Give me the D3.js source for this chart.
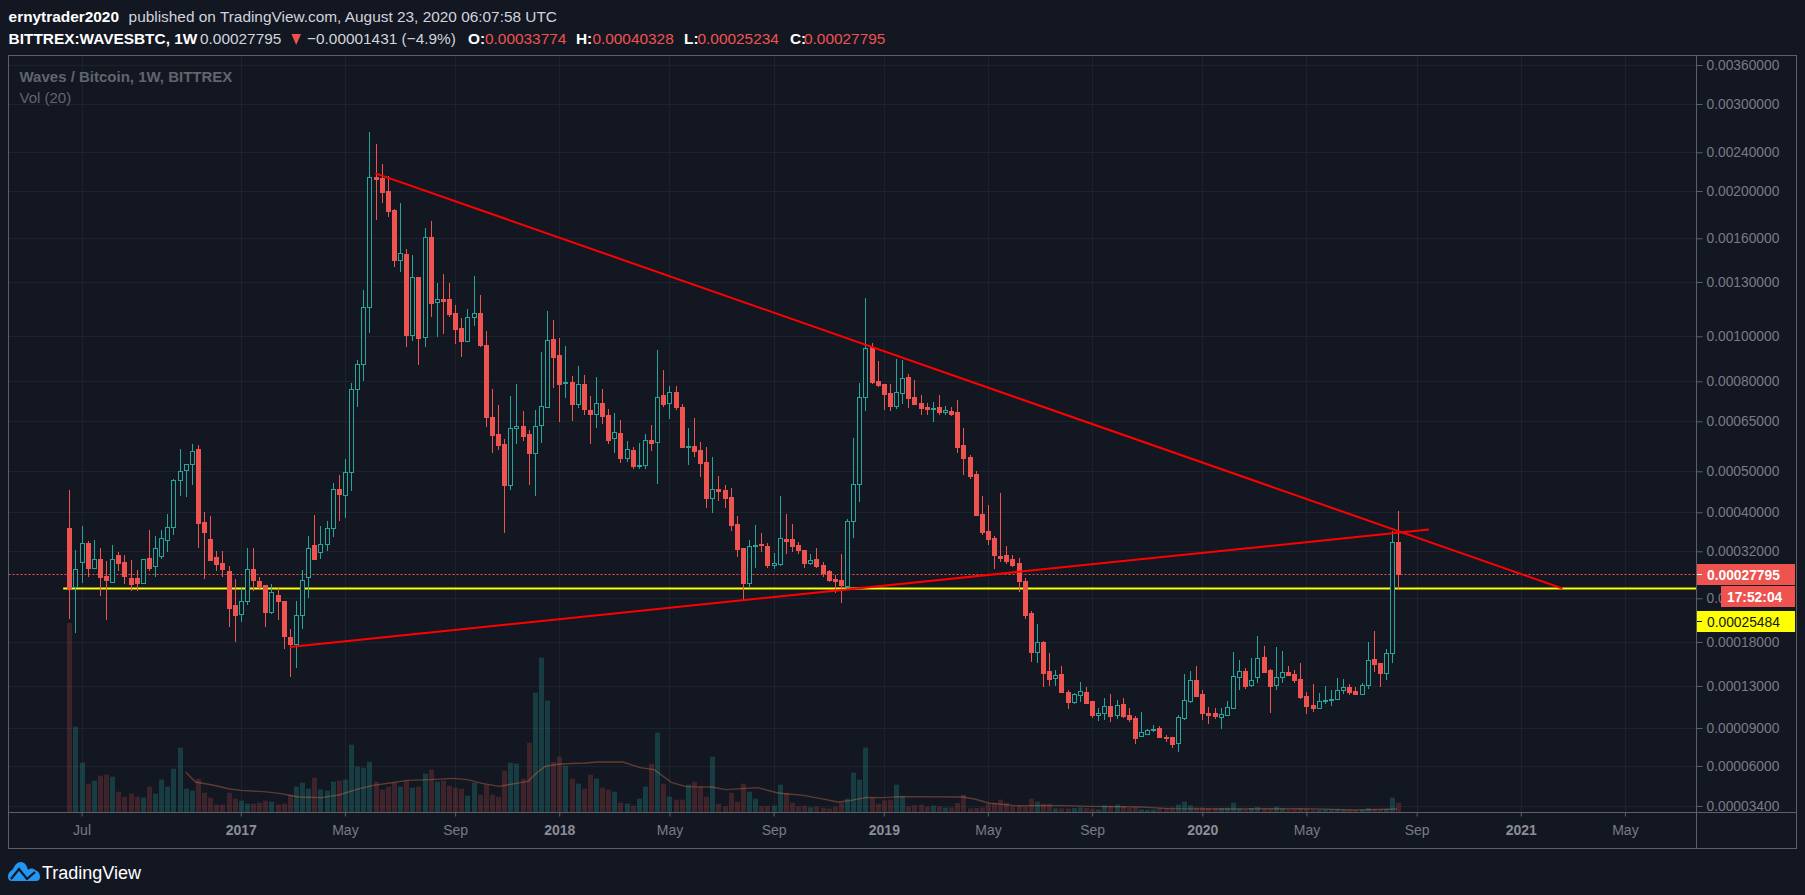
<!DOCTYPE html>
<html><head><meta charset="utf-8">
<style>html,body{margin:0;padding:0;background:#131722}svg{display:block}</style>
<script src="https://cdnjs.cloudflare.com/ajax/libs/d3/7.8.5/d3.min.js"></script>
</head><body><svg id="c" width="1805" height="895"></svg>
<script>
// ---- values, in satoshi (1e-8 BTC), one entry per weekly candle
const opens=[36500,25700,29900,33550,28900,30450,27450,26550,31200,29950,
27100,27100,26400,30650,29250,31150,34150,36750,47600,50300,
51900,56100,37850,34350,30850,29750,28300,22950,21600,23500,
28700,26600,26000,21950,24500,23600,18600,17750,21450,27400,
33200,31800,33350,36550,45450,43900,49800,76800,87000,115100,
213200,212200,200000,182800,144500,148300,100800,133000,99800,161000,
117900,119800,119800,111800,103900,97900,110000,111800,95800,66500,
60800,57700,46500,62600,63400,60800,55100,63800,70100,98700,
91100,79200,79700,71100,78900,68900,67400,71400,67200,59600,
61100,53700,55900,51300,51800,58800,58200,74500,71500,75700,
69900,56800,57100,55900,52400,43300,45450,45200,43500,37400,
32600,26350,33000,33400,33000,29450,29650,34400,34400,33200,
32200,29800,30500,29400,28300,26950,26800,25900,38000,46600,
73900,95000,80100,78900,75200,70400,75200,81700,73700,71400,
70000,69400,70000,68300,68600,68200,57400,53900,49300,39600,
36000,34600,31000,31200,30500,29750,26750,21750,16750,18000,
14500,13750,14200,12350,11300,12050,12350,11400,10100,10300,
10900,10080,11100,10080,9800,8300,8470,8780,9000,8190,
8190,7630,9850,11400,13590,12100,10280,10280,9930,10080,
10760,13850,14550,13050,13850,16100,14630,13100,13850,14400,
14200,13700,11900,11000,10760,11400,11500,11650,12600,12900,
12450,12150,13050,15850,15400,14350,16550,33774];
const closes=[25350,28800,33650,28900,30450,27350,26800,30450,29800,27500,
26200,26350,30450,28900,32550,34550,36750,47600,50000,51900,
55500,37700,35650,30300,29600,28700,22550,21550,23500,28800,
26850,25900,21950,25000,23500,18750,17750,21450,26900,32550,
30550,33350,36550,45350,44300,49800,76800,87000,115100,213200,
211600,199300,182200,144500,149000,100800,133000,99200,160700,117700,
119600,118800,111600,103700,97900,110000,111800,95900,66300,60600,
57500,46400,62600,63300,60300,55100,63300,70200,98000,90300,
79000,79700,71100,78800,69400,67500,71300,66900,59000,61400,
53500,56100,51400,51600,58800,58100,73900,71100,75600,69900,
56700,57000,55600,52300,43300,45400,45000,43300,37300,32500,
26300,33000,33250,33250,29400,29700,34550,33850,33050,32200,
29750,30400,29200,27950,26800,26600,26000,38000,46600,73900,
94300,79800,78400,75000,70400,75600,81200,73400,71100,69800,
69400,69600,68200,69100,67500,56900,53700,48800,39400,35650,
34400,31200,30650,30100,29400,26650,21550,16750,17950,14350,
13700,14150,12350,11300,12100,12400,11200,10080,10250,10900,
10000,11000,10000,9700,8100,8600,8780,8950,8190,8130,
7600,9950,11500,13550,11900,10280,10080,10000,10150,10770,
13950,14500,13000,13550,16050,14400,13000,13850,14400,14100,
13590,11800,10900,10700,11450,11550,11650,12600,12850,12350,
12100,13100,15800,15300,14300,16550,33750,27795];
const highs=[45200,32200,37000,34000,34200,32600,30100,33200,31800,31200,
30300,28500,30450,36200,35000,36200,39600,47950,56100,51900,
57700,57300,40000,39200,32000,32000,29200,26950,25550,32600,
32600,27350,26100,26150,25550,23600,19650,23600,28500,35000,
39400,37000,38100,46800,49000,53400,79100,88900,125100,263500,
249200,227100,214500,183400,188700,151800,147800,133000,168000,173500,
129300,135000,129300,116400,109300,114000,133800,122100,102500,76900,
70600,59100,74100,78900,68600,62100,68900,92600,113000,108200,
99100,95300,82100,86300,82500,74100,81700,76900,69200,67900,
65500,58600,56700,57900,60700,63700,93400,84600,78100,78100,
71100,62600,66200,58300,56800,54000,48700,46300,45700,39200,
32600,34200,37200,35600,33600,31600,43800,39600,37400,33800,
32200,31400,32600,29950,28500,27700,31400,38400,59400,79100,
120300,96700,88400,78900,78900,89300,88900,82900,80500,74500,
71400,71800,74500,70300,70000,72600,62700,54500,50000,43800,
41600,35000,44400,33000,31200,30800,27200,22050,20300,18100,
16600,14600,15050,12550,12200,13400,12900,11400,10700,11700,
12100,11500,11700,10700,10000,10350,8950,9250,9150,8350,
8190,10080,14200,14500,15050,12550,10850,10700,10700,11400,
16700,15750,14850,16000,18700,17500,14700,17300,16850,15050,
14630,15400,12350,13200,12200,13000,12550,13800,13700,13200,
12900,13300,18000,19350,15400,17050,36000,40328];
const lows=[20980,19150,26350,27350,28700,24400,20800,26350,28300,26150,
25100,25100,26400,28300,27350,30550,31900,35050,43800,43400,
46500,32650,27000,30100,28400,27350,19900,18040,20600,23000,
25100,25300,19900,21700,20850,17100,13900,14900,19550,24050,
30550,30550,32050,34650,38150,38800,44800,70100,80200,101800,
174700,189200,177100,139800,136500,95000,97900,86700,95000,110000,
99800,101300,110000,96400,90300,97400,105100,95000,63200,55100,
56000,35500,45200,57700,58600,46400,43600,58000,69900,77300,
64900,73400,65200,69800,67000,57800,62700,64200,57800,55100,
52100,52600,50500,50500,50700,55700,46700,70100,65900,69000,
56600,51800,54000,48600,41000,39900,42600,41000,35900,30900,
23600,25600,28850,31800,28850,28700,29200,31400,31900,31400,
28850,29400,28850,27300,26450,24750,23300,25400,34450,42400,
68600,78700,77800,68900,68600,69400,71100,69600,70700,67000,
67000,64800,67300,67300,66900,55100,49000,48000,39300,35050,
33200,28700,29950,29600,29050,24900,20950,15500,15400,12900,
13000,13000,12250,10600,11100,11300,11100,9800,9600,9650,
9500,9700,9800,9500,7600,8200,8350,8630,8100,7750,
7280,6950,9650,11250,11800,9650,9350,9700,8900,10000,
10760,12550,12650,12900,13250,14300,10280,12550,13250,14000,
13250,11600,10150,10350,10600,11100,10900,11600,12100,12000,
12100,12100,12650,14400,12900,13590,15400,25234];
const volumes=[567,256,148,85,94,109,112,106,61,46,
55,46,43,76,55,97,76,130,193,70,
64,100,58,43,22,22,58,40,34,25,
25,28,34,31,22,25,52,76,88,70,
103,67,64,91,94,97,202,136,133,151,
91,67,76,88,76,94,73,76,115,127,
91,94,79,73,70,49,88,52,82,52,
46,124,148,145,100,208,358,463,334,151,
166,139,100,85,70,112,100,73,67,61,
28,25,19,40,76,145,238,85,46,37,
37,82,91,76,46,166,25,17,58,31,
85,61,40,17,18,19,82,57,28,17,
19,14,17,13,10,16,29,40,118,97,
193,43,25,35,37,82,47,17,20,22,
16,19,17,13,14,27,52,11,12,14,
25,27,37,27,17,19,17,40,31,25,
25,11,11,10,12,14,12,10,8,20,
19,22,18,12,14,8,7,7,11,11,
14,22,31,20,14,14,12,11,12,13,
28,10,7,12,15,10,10,16,10,7,
8,10,9,7,7,8,8,9,7,7,
6,7,12,9,8,9,43,28];
// Vol(20) moving-average line
const maIndex=[19,20.6,23.4,26.2,28,31.8,34.6,37.4,41.2,44,46.8,49.6,52.4,55.2,59,62.7,65,67.4,70.2,73,74.9,76.3,77.7,80,84.3,86.2,90.4,93.2,95.5,98.3,100.7,104.9,107.2,112.4,115.7,119.9,122.7,125.5,127.4,130.2,133,135.6,145.9,147.8,150.1,154.4,162.8,166.5,175,179.7,188.1,201.7,210.2,216.8];
const maVolume=[120,90,81,69,65,61,55,45,43,51,67,80,87,95,97,101,97,86,77,86,92,117,137,144,147,150,150,133,127,89,76,75,67,73,57,50,40,30,34,44,43,46,45,39,27,19,19,17,15,10,9,10,6,9];
// axes
const priceTicks=[3400,6000,9000,13000,18000,24000,32000,40000,50000,65000,80000,100000,130000,160000,200000,240000,300000,360000];
const timeTickIndex=[2,28,45,63,80,98,115,133,150,167,185,202,220,237,254];
const timeTickLabels=["Jul","2017","May","Sep","2018","May","Sep","2019","May","Sep","2020","May","Sep","2021","May"];
// drawn lines: [candle index, price]
const resistance=[[50,217300],[243.8,25484]];
const support=[[36,17350],[222,36250]];
const levelPrice=25484, levelFrom=-1;
const lastPrice=27795;

// ---- layout
const W=1805,H=895,L=8.5,T=55.5,PR=1696.5,PB=812.5,OR=1796.5,OB=848.5;
const yPixels=[806,766,728,686,642,598.3,551.3,512.3,471.3,421.3,381.3,336.3,282,238.3,191,152.3,104,65];
const BG="#131722",GRID="#1e222d",BORDER="#5d606b",TXT="#787b86",UP="#26a69a",DOWN="#ef5350";
const FONT="'Liberation Sans',Arial,sans-serif";

const x=d3.scaleLinear().domain([0,217]).range([69.3,1398.3]);
const y=d3.scaleLog().domain(priceTicks).range(yPixels);
const v=d3.scaleLinear().domain([0,600]).range([812,612]);
const px=i=>Math.round(x(i))+.5, py=p=>Math.round(y(p));

const svg=d3.select("#c").style("font-family",FONT);
svg.append("rect").attr("width",W).attr("height",H).attr("fill",BG);

// grid
const yAxis=d3.axisRight(y).tickValues(priceTicks).tickSizeOuter(0).tickSize(6).tickPadding(4).tickFormat(d=>(d*1e-8).toFixed(8));
const xAxis=d3.axisBottom(x).tickValues(timeTickIndex).tickSizeOuter(0).tickSize(4).tickPadding(9).tickFormat((d,i)=>timeTickLabels[i]);
const grid=svg.append("g").attr("stroke",GRID).attr("stroke-width",1);
priceTicks.forEach(t=>grid.append("line").attr("x1",L).attr("x2",PR).attr("y1",Math.round(y(t))+.5).attr("y2",Math.round(y(t))+.5));
timeTickIndex.forEach(t=>grid.append("line").attr("y1",T).attr("y2",PB).attr("x1",px(t)).attr("x2",px(t)));

// volume
const idx=d3.range(opens.length);
svg.append("g").selectAll("rect").data(idx).join("rect")
 .attr("x",i=>Math.round(x(i))-2).attr("width",5)
 .attr("y",i=>v(volumes[i])).attr("height",i=>v(0)-v(volumes[i]))
 .attr("fill",i=>closes[i]>=opens[i]?UP:DOWN)
 .attr("fill-opacity",i=>closes[i]>=opens[i]?.27:.2);
svg.append("path").attr("fill","none").attr("stroke","#ff8a50").attr("stroke-opacity",.32).attr("stroke-width",1.4)
 .attr("d",d3.line().x((d,i)=>x(maIndex[i])).y(d=>v(d))(maVolume));

// last-price dashed line
svg.append("line").attr("x1",L).attr("x2",PR).attr("y1",py(lastPrice)+.5).attr("y2",py(lastPrice)+.5)
 .attr("stroke",DOWN).attr("stroke-dasharray","2 2").attr("stroke-width",1);
// yellow level
svg.append("line").attr("x1",x(levelFrom)).attr("x2",PR).attr("y1",y(levelPrice)).attr("y2",y(levelPrice))
 .attr("stroke","#ffff00").attr("stroke-width",2);

// candles
const cg=svg.append("g");
idx.forEach(i=>{
 const up=closes[i]>=opens[i],c=up?UP:DOWN,X=px(i);
 const top=py(Math.max(opens[i],closes[i])),bot=py(Math.min(opens[i],closes[i]));
 cg.append("line").attr("x1",X).attr("x2",X).attr("y1",py(highs[i])).attr("y2",py(lows[i])).attr("stroke",c).attr("stroke-width",1);
 if(up) cg.append("rect").attr("x",X-2).attr("width",4).attr("y",top+.5).attr("height",Math.max(bot-top,1)).attr("fill",BG).attr("stroke",c).attr("stroke-width",1);
 else cg.append("rect").attr("x",X-2.5).attr("width",5).attr("y",top).attr("height",Math.max(bot-top,1)+1).attr("fill",c);
});

// trend lines
[resistance,support].forEach(s=>svg.append("line")
 .attr("x1",x(s[0][0])).attr("y1",y(s[0][1])).attr("x2",x(s[1][0])).attr("y2",y(s[1][1]))
 .attr("stroke","#ff0000").attr("stroke-width",2));

// frame
svg.append("rect").attr("x",L).attr("y",T).attr("width",OR-L).attr("height",OB-T).attr("fill","none").attr("stroke",BORDER);
svg.append("line").attr("x1",PR).attr("x2",PR).attr("y1",T).attr("y2",OB).attr("stroke",BORDER);
svg.append("line").attr("x1",L).attr("x2",OR).attr("y1",PB).attr("y2",PB).attr("stroke",BORDER);

// axes
const ya=svg.append("g").attr("transform",`translate(${PR},0)`).call(yAxis);
ya.select(".domain").remove();
ya.selectAll("line").attr("stroke",BORDER);
ya.selectAll("text").attr("fill",TXT).attr("font-size",13.8).attr("font-family",FONT);
const xa=svg.append("g").attr("transform",`translate(0,${PB})`).call(xAxis);
xa.select(".domain").remove();
xa.selectAll("line").attr("stroke",BORDER);
xa.selectAll("text").attr("fill",(d,i)=>/^\d/.test(timeTickLabels[i])?"#8b8e98":TXT).attr("font-size",14).attr("font-family",FONT)
  .attr("font-weight",(d,i)=>/^\d/.test(timeTickLabels[i])?"bold":"normal");

// price labels
function tag(x0,x1,y0,y1,fill,txt,col,weight,tx){
 svg.append("rect").attr("x",x0).attr("y",y0).attr("width",x1-x0).attr("height",y1-y0).attr("fill",fill);
 svg.append("text").attr("x",tx).attr("y",(y0+y1)/2+5).attr("fill",col).attr("font-size",13.8).attr("font-weight",weight).text(txt);
}
tag(1697,1795,564,585,DOWN,(lastPrice*1e-8).toFixed(8),"#ffffff","bold",1707);
svg.append("line").attr("x1",1697).attr("x2",1702).attr("y1",574.5).attr("y2",574.5).attr("stroke","#fff");
tag(1721,1795,586,607,DOWN,"17:52:04","#ffffff","bold",1727);
tag(1697,1795,611,632,"#ffff00",(levelPrice*1e-8).toFixed(8),"#131722","normal",1707);
svg.append("line").attr("x1",1697).attr("x2",1702).attr("y1",621.5).attr("y2",621.5).attr("stroke","#131722");

// header
const hdr=(t,xx,yy,col,w,size)=>svg.append("text").attr("x",xx).attr("y",yy).attr("fill",col).attr("font-weight",w||"normal").attr("font-size",size||15.4).text(t);
hdr("ernytrader2020",8.6,22,"#ffffff","bold");
hdr("published on TradingView.com, August 23, 2020 06:07:58 UTC",128.6,22,"#d1d4dc");
hdr("BITTREX:WAVESBTC, 1W",8.6,44,"#ffffff","bold");
hdr("0.00027795",200,44,"#d1d4dc");
svg.append("path").attr("d","M291.5 34L301 34L296.2 45Z").attr("fill",DOWN);
hdr("\u22120.00001431 (\u22124.9%)",307,44,"#d1d4dc");
[["O:",468,"0.00033774",485],["H:",576,"0.00040328",592.4],["L:",684,"0.00025234",697.5],["C:",790,"0.00027795",804]].forEach(a=>{
 hdr(a[0],a[1],44,"#ffffff","bold");hdr(a[2],a[3],44,DOWN);
});
hdr("Waves / Bitcoin, 1W, BITTREX",19.5,82,"#62656f","bold",15);
hdr("Vol (20)",19.5,103,"#62656f","normal",15);

// logo
svg.append("path").attr("fill","#2196f3").attr("d","M8 877C8 872 11 871 13 869C15 865 17 862 21 862C25 862 27 866 28 870C30 868 33 868 35 870C38 871 40 873 40 877C40 880 38 881 36 881L12 881C10 881 8 880 8 877Z");
svg.append("path").attr("fill","none").attr("stroke",BG).attr("stroke-width",2.2).attr("d","M11 879L19 869L27 879L35 872");
hdr("TradingView",42,879,"#ffffff","normal",18);
</script></body></html>
